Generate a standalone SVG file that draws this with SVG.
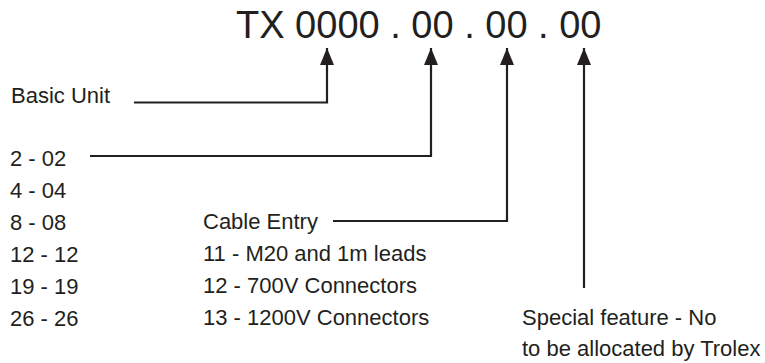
<svg xmlns="http://www.w3.org/2000/svg" width="765" height="363" viewBox="0 0 765 363">
<defs>
<marker id="ah" markerUnits="userSpaceOnUse" markerWidth="18" markerHeight="15" refX="17" refY="7" orient="auto">
<path d="M0,0 L17,7 L0,14 Z" fill="#231f20"/>
</marker>
<style>
text{font-family:"Liberation Sans",Arial,sans-serif;fill:#231f20}
.t{font-size:22px}
.h{font-size:38px}
.c{fill:none;stroke:#231f20;stroke-width:2.2}
</style>
</defs>
<rect width="765" height="363" fill="#fff"/>
<g id="title"><text class="h" x="236" y="38">TX 0000 . 00 . 00 . 00</text></g>
<g id="basic"><text class="t" x="11" y="103">Basic Unit</text></g>
<g id="sizes">
<text class="t" x="10" y="166">2 - 02</text>
<text class="t" x="10" y="198">4 - 04</text>
<text class="t" x="10" y="230">8 - 08</text>
<text class="t" x="10" y="262">12 - 12</text>
<text class="t" x="10" y="294">19 - 19</text>
<text class="t" x="10" y="326">26 - 26</text>
</g>
<g id="cable">
<text class="t" x="203" y="229">Cable Entry</text>
<text class="t" x="203" y="261">11 - M20 and 1m leads</text>
<text class="t" x="203" y="293">12 - 700V Connectors</text>
<text class="t" x="203" y="325">13 - 1200V Connectors</text>
</g>
<g id="special">
<text class="t" x="522" y="325">Special feature - No</text>
<text class="t" x="522" y="356">to be allocated by Trolex</text>
</g>
<g id="connectors">
<path class="c" d="M134,102.5 H327 V48" marker-end="url(#ah)"/>
<path class="c" d="M90,156 H431 V48" marker-end="url(#ah)"/>
<path class="c" d="M333,221 H507 V48" marker-end="url(#ah)"/>
<path class="c" d="M584,288 V48" marker-end="url(#ah)"/>
</g>
</svg>
